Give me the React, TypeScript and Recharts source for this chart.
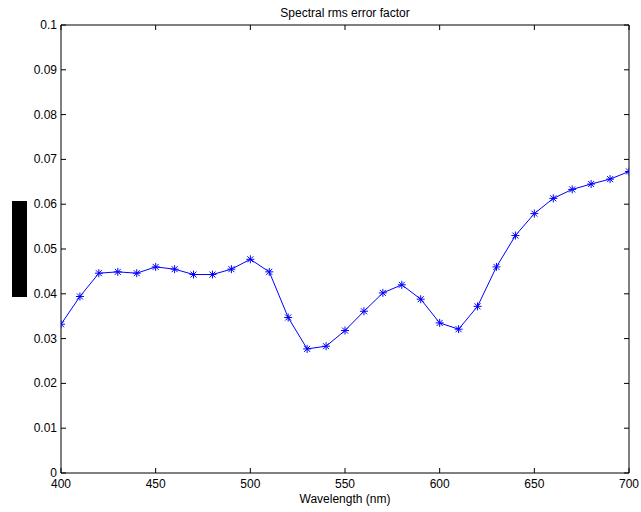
import React from 'react';
import { LineChart, Line, XAxis, YAxis, Label } from 'recharts';

const wavelengths = [400, 410, 420, 430, 440, 450, 460, 470, 480, 490, 500, 510, 520, 530, 540, 550, 560, 570, 580, 590, 600, 610, 620, 630, 640, 650, 660, 670, 680, 690, 700];
const rmsError = [0.0332, 0.0394, 0.0446, 0.0449, 0.0446, 0.0460, 0.0455, 0.0443, 0.0443, 0.0455, 0.0477, 0.0449, 0.0347, 0.0277, 0.0283, 0.0318, 0.0361, 0.0402, 0.0420, 0.0388, 0.0335, 0.0321, 0.0372, 0.0460, 0.0530, 0.0579, 0.0613, 0.0633, 0.0645, 0.0656, 0.0673];
const xTicks = [400, 450, 500, 550, 600, 650, 700];
const yTicks = [0, 0.01, 0.02, 0.03, 0.04, 0.05, 0.06, 0.07, 0.08, 0.09, 0.1];
const yTickLabels = ['0', '0.01', '0.02', '0.03', '0.04', '0.05', '0.06', '0.07', '0.08', '0.09', '0.1'];
const title = 'Spectral rms error factor';
const xLabel = 'Wavelength (nm)';

const data = wavelengths.map((w, i) => ({ w, e: rmsError[i] }));

const FONT = '"Liberation Sans", Arial, Helvetica, sans-serif';
const TL = 5;

const BottomTick = (p: any) => (
  <g>
    <line x1={p.x} y1={p.y} x2={p.x} y2={p.y - TL} stroke="#000" strokeWidth={1} />
    <text x={p.x} y={p.y + 15} textAnchor="middle" fontFamily={FONT} fontSize={12} fill="#000">
      {p.payload.value}
    </text>
  </g>
);
const TopTick = (p: any) => (
  <line x1={p.x} y1={p.y} x2={p.x} y2={p.y + TL} stroke="#000" strokeWidth={1} />
);
const LeftTick = (p: any) => {
  const idx = yTicks.indexOf(p.payload.value);
  return (
    <g>
      <line x1={p.x} y1={p.y} x2={p.x + TL} y2={p.y} stroke="#000" strokeWidth={1} />
      <text x={p.x - 4} y={p.y + 4} textAnchor="end" fontFamily={FONT} fontSize={12} fill="#000">
        {idx >= 0 ? yTickLabels[idx] : String(p.payload.value)}
      </text>
    </g>
  );
};
const RightTick = (p: any) => (
  <line x1={p.x} y1={p.y} x2={p.x - TL} y2={p.y} stroke="#000" strokeWidth={1} />
);

const Star = (p: any) => {
  const { cx, cy } = p;
  if (cx == null || cy == null) return <g />;
  const r = 4;
  const d = 3;
  return (
    <g stroke="#0000ff" strokeWidth={1}>
      <line x1={cx - r} y1={cy} x2={cx + r} y2={cy} />
      <line x1={cx} y1={cy - r} x2={cx} y2={cy + r} />
      <line x1={cx - d} y1={cy - d} x2={cx + d} y2={cy + d} />
      <line x1={cx - d} y1={cy + d} x2={cx + d} y2={cy - d} />
    </g>
  );
};

export default function App() {
  return (
    <div style={{ position: 'absolute', left: 0, top: 0, background: '#fff' }}>
      <LineChart width={641} height={512} data={data} margin={{ top: 24, right: 11, bottom: 0, left: 0 }}>
        <XAxis
          dataKey="w"
          type="number"
          domain={[400, 700]}
          ticks={xTicks}
          interval={0}
          height={39}
          tickSize={0}
          tickMargin={0}
          tickLine={false}
          tick={BottomTick}
          axisLine={{ stroke: '#000', strokeWidth: 1 }}
          allowDataOverflow
        >
          <Label value={xLabel} position="insideBottom" offset={9} fontFamily={FONT} fontSize={12} fill="#000" />
        </XAxis>
        <XAxis
          xAxisId="top"
          orientation="top"
          dataKey="w"
          type="number"
          domain={[400, 700]}
          ticks={xTicks}
          interval={0}
          height={1}
          tickSize={0}
          tickMargin={0}
          tickLine={false}
          tick={TopTick}
          axisLine={{ stroke: '#000', strokeWidth: 1 }}
          allowDataOverflow
        >
          <Label value={title} position="top" offset={7} fontFamily={FONT} fontSize={12} fill="#000" />
        </XAxis>
        <YAxis
          type="number"
          domain={[0, 0.1]}
          ticks={yTicks}
          interval={0}
          width={61}
          tickSize={0}
          tickMargin={0}
          tickLine={false}
          tick={LeftTick}
          axisLine={{ stroke: '#000', strokeWidth: 1 }}
          allowDataOverflow
        >
          <Label content={() => <rect x={12} y={201} width={15} height={96} fill="#000" />} />
        </YAxis>
        <YAxis
          yAxisId="right"
          orientation="right"
          type="number"
          domain={[0, 0.1]}
          ticks={yTicks}
          interval={0}
          width={1}
          tickSize={0}
          tickMargin={0}
          tickLine={false}
          tick={RightTick}
          axisLine={{ stroke: '#000', strokeWidth: 1 }}
          allowDataOverflow
        />
        <Line
          xAxisId="top"
          yAxisId="right"
          dataKey="e"
          type="linear"
          stroke="none"
          dot={false}
          activeDot={false}
          legendType="none"
          isAnimationActive={false}
        />
        <Line
          dataKey="e"
          type="linear"
          stroke="#0000ff"
          strokeWidth={1}
          dot={Star}
          activeDot={false}
          isAnimationActive={false}
        />
      </LineChart>
    </div>
  );
}
